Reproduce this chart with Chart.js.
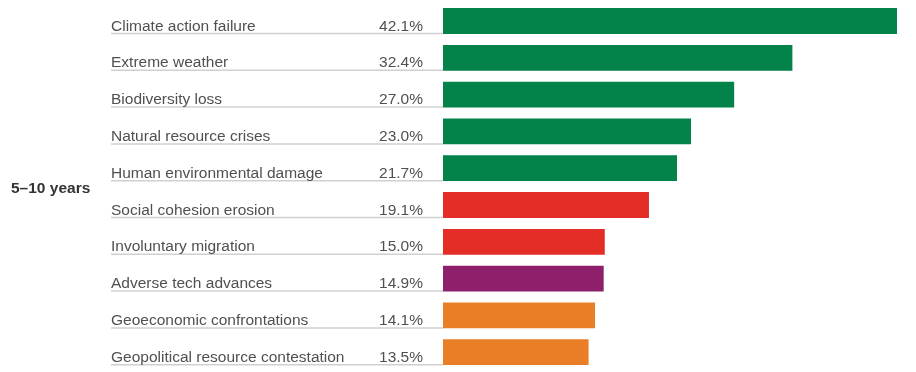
<!DOCTYPE html>
<html>
<head>
<meta charset="utf-8">
<script src="https://cdn.jsdelivr.net/npm/chart.js@4"></script>
<style>
  html, body { margin: 0; padding: 0; background: #fff; }
  #wrap { width: 916px; height: 372px; position: relative; }
</style>
</head>
<body>
<div id="wrap"><canvas id="myChart"></canvas></div>
<script>
// data
const horizon = "5–10 years";
const risks = [
  "Climate action failure",
  "Extreme weather",
  "Biodiversity loss",
  "Natural resource crises",
  "Human environmental damage",
  "Social cohesion erosion",
  "Involuntary migration",
  "Adverse tech advances",
  "Geoeconomic confrontations",
  "Geopolitical resource contestation",
];
const shares = [42.1, 32.4, 27.0, 23.0, 21.7, 19.1, 15.0, 14.9, 14.1, 13.5];
const categories = [
  "environmental", "environmental", "environmental", "environmental", "environmental",
  "societal", "societal", "technological", "geopolitical", "geopolitical",
];

const categoryColors = {
  environmental: "#03824a",
  societal: "#e52d27",
  technological: "#8e1f6b",
  geopolitical: "#e97e26",
};

const FONT = "'Liberation Sans', Arial, Helvetica, sans-serif";

// labels, values and underlines on the left of the bars
const rowLabels = {
  id: "rowLabels",
  afterDatasetsDraw(chart) {
    const ctx = chart.ctx;
    const yScale = chart.scales.y;
    const area = chart.chartArea;
    ctx.save();

    risks.forEach((name, i) => {
      const y = yScale.getPixelForValue(i);

      // underline
      ctx.strokeStyle = "#d0d0d0";
      ctx.lineWidth = 1.5;
      ctx.beginPath();
      ctx.moveTo(111, y + 12.5);
      ctx.lineTo(area.left, y + 12.5);
      ctx.stroke();

      ctx.fillStyle = "#505050";
      ctx.font = "15.5px " + FONT;
      ctx.textBaseline = "alphabetic";
      ctx.textAlign = "left";
      ctx.fillText(name, 111, y + 9.5);

      ctx.textAlign = "right";
      ctx.fillText(shares[i].toFixed(1) + "%", 423, y + 9.5);
    });

    // group title
    ctx.fillStyle = "#333333";
    ctx.font = "bold 15.5px " + FONT;
    ctx.textAlign = "left";
    ctx.fillText(horizon, 11, (area.top + area.bottom) / 2 + 6.5);

    ctx.restore();
  },
};

const ctx = document.getElementById("myChart");

new Chart(ctx, {
  type: "bar",
  data: {
    labels: risks,
    datasets: [
      {
        data: shares,
        backgroundColor: categories.map((c) => categoryColors[c]),
        borderWidth: 0,
        barPercentage: 0.7,
        categoryPercentage: 1.0,
      },
    ],
  },
  options: {
    indexAxis: "y",
    responsive: true,
    maintainAspectRatio: false,
    animation: false,
    layout: {
      padding: { left: 443, right: 19, top: 2.6, bottom: 1.4 },
    },
    scales: {
      x: { display: false, min: 0, max: 42.1 },
      y: { display: false },
    },
    plugins: {
      legend: { display: false },
      tooltip: { enabled: false },
    },
  },
  plugins: [rowLabels],
});
</script>
</body>
</html>
